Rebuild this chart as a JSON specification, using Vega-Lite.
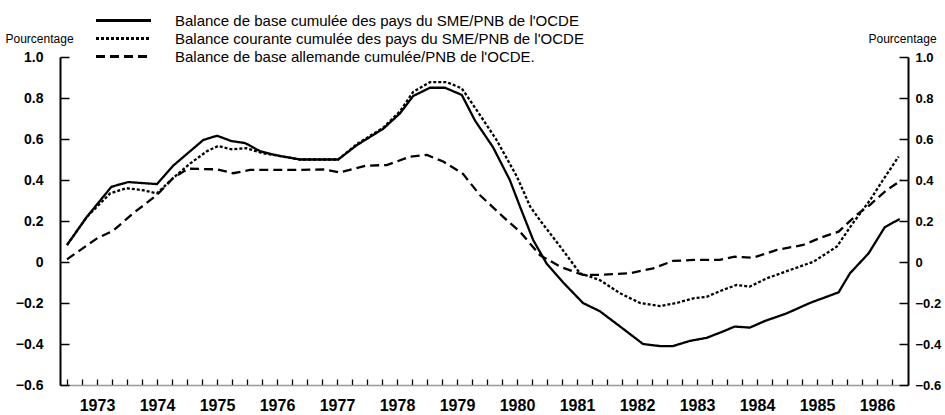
{
  "$schema": "https://vega.github.io/schema/vega-lite/v6.json",
  "autosize": {"type": "none"},
  "width": 848,
  "height": 328,
  "padding": {"left": 60, "top": 57, "right": 37, "bottom": 30},
  "background": "white",
  "config": {"view": {"stroke": null}, "font": "Liberation Sans"},
  "data": {"values": [
    {"t":1973.0,"v":0.083,"s":"a"},{"t":1973.33,"v":0.22,"s":"a"},{"t":1973.74,"v":0.367,"s":"a"},{"t":1974.02,"v":0.39,"s":"a"},{"t":1974.5,"v":0.38,"s":"a"},{"t":1974.77,"v":0.47,"s":"a"},{"t":1975.27,"v":0.595,"s":"a"},{"t":1975.5,"v":0.616,"s":"a"},{"t":1975.74,"v":0.59,"s":"a"},{"t":1975.97,"v":0.58,"s":"a"},{"t":1976.22,"v":0.54,"s":"a"},{"t":1976.5,"v":0.52,"s":"a"},{"t":1976.88,"v":0.5,"s":"a"},{"t":1977.05,"v":0.5,"s":"a"},{"t":1977.52,"v":0.5,"s":"a"},{"t":1977.83,"v":0.57,"s":"a"},{"t":1978.27,"v":0.65,"s":"a"},{"t":1978.55,"v":0.725,"s":"a"},{"t":1978.77,"v":0.81,"s":"a"},{"t":1979.05,"v":0.85,"s":"a"},{"t":1979.3,"v":0.85,"s":"a"},{"t":1979.58,"v":0.815,"s":"a"},{"t":1979.8,"v":0.69,"s":"a"},{"t":1980.1,"v":0.56,"s":"a"},{"t":1980.38,"v":0.4,"s":"a"},{"t":1980.55,"v":0.27,"s":"a"},{"t":1980.77,"v":0.107,"s":"a"},{"t":1980.99,"v":-0.006,"s":"a"},{"t":1981.27,"v":-0.1,"s":"a"},{"t":1981.6,"v":-0.2,"s":"a"},{"t":1981.88,"v":-0.24,"s":"a"},{"t":1982.22,"v":-0.315,"s":"a"},{"t":1982.6,"v":-0.4,"s":"a"},{"t":1982.88,"v":-0.41,"s":"a"},{"t":1983.1,"v":-0.41,"s":"a"},{"t":1983.38,"v":-0.385,"s":"a"},{"t":1983.66,"v":-0.37,"s":"a"},{"t":1983.88,"v":-0.345,"s":"a"},{"t":1984.13,"v":-0.315,"s":"a"},{"t":1984.38,"v":-0.32,"s":"a"},{"t":1984.63,"v":-0.288,"s":"a"},{"t":1985.0,"v":-0.25,"s":"a"},{"t":1985.38,"v":-0.2,"s":"a"},{"t":1985.86,"v":-0.148,"s":"a"},{"t":1986.05,"v":-0.055,"s":"a"},{"t":1986.36,"v":0.042,"s":"a"},{"t":1986.63,"v":0.17,"s":"a"},{"t":1986.88,"v":0.21,"s":"a"},
    {"t":1973.0,"v":0.083,"s":"b"},{"t":1973.33,"v":0.22,"s":"b"},{"t":1973.72,"v":0.335,"s":"b"},{"t":1973.99,"v":0.36,"s":"b"},{"t":1974.27,"v":0.35,"s":"b"},{"t":1974.5,"v":0.335,"s":"b"},{"t":1974.77,"v":0.41,"s":"b"},{"t":1975.05,"v":0.48,"s":"b"},{"t":1975.33,"v":0.54,"s":"b"},{"t":1975.52,"v":0.566,"s":"b"},{"t":1975.74,"v":0.55,"s":"b"},{"t":1975.99,"v":0.555,"s":"b"},{"t":1976.27,"v":0.53,"s":"b"},{"t":1976.55,"v":0.517,"s":"b"},{"t":1976.88,"v":0.5,"s":"b"},{"t":1977.05,"v":0.5,"s":"b"},{"t":1977.52,"v":0.5,"s":"b"},{"t":1977.83,"v":0.575,"s":"b"},{"t":1978.27,"v":0.655,"s":"b"},{"t":1978.55,"v":0.735,"s":"b"},{"t":1978.77,"v":0.83,"s":"b"},{"t":1979.05,"v":0.877,"s":"b"},{"t":1979.33,"v":0.877,"s":"b"},{"t":1979.58,"v":0.847,"s":"b"},{"t":1979.83,"v":0.74,"s":"b"},{"t":1980.16,"v":0.595,"s":"b"},{"t":1980.5,"v":0.416,"s":"b"},{"t":1980.72,"v":0.27,"s":"b"},{"t":1980.88,"v":0.205,"s":"b"},{"t":1981.22,"v":0.075,"s":"b"},{"t":1981.55,"v":-0.055,"s":"b"},{"t":1981.88,"v":-0.088,"s":"b"},{"t":1982.22,"v":-0.153,"s":"b"},{"t":1982.55,"v":-0.2,"s":"b"},{"t":1982.88,"v":-0.215,"s":"b"},{"t":1983.16,"v":-0.2,"s":"b"},{"t":1983.44,"v":-0.177,"s":"b"},{"t":1983.66,"v":-0.17,"s":"b"},{"t":1983.9,"v":-0.14,"s":"b"},{"t":1984.16,"v":-0.112,"s":"b"},{"t":1984.38,"v":-0.12,"s":"b"},{"t":1984.66,"v":-0.08,"s":"b"},{"t":1985.05,"v":-0.039,"s":"b"},{"t":1985.44,"v":0.001,"s":"b"},{"t":1985.83,"v":0.075,"s":"b"},{"t":1986.1,"v":0.19,"s":"b"},{"t":1986.38,"v":0.3,"s":"b"},{"t":1986.6,"v":0.4,"s":"b"},{"t":1986.86,"v":0.514,"s":"b"},
    {"t":1973.0,"v":0.013,"s":"c"},{"t":1973.22,"v":0.058,"s":"c"},{"t":1973.5,"v":0.115,"s":"c"},{"t":1973.77,"v":0.153,"s":"c"},{"t":1974.1,"v":0.237,"s":"c"},{"t":1974.5,"v":0.327,"s":"c"},{"t":1974.77,"v":0.41,"s":"c"},{"t":1975.02,"v":0.455,"s":"c"},{"t":1975.5,"v":0.452,"s":"c"},{"t":1975.77,"v":0.433,"s":"c"},{"t":1976.05,"v":0.449,"s":"c"},{"t":1976.88,"v":0.449,"s":"c"},{"t":1977.27,"v":0.452,"s":"c"},{"t":1977.55,"v":0.437,"s":"c"},{"t":1977.99,"v":0.47,"s":"c"},{"t":1978.33,"v":0.473,"s":"c"},{"t":1978.72,"v":0.514,"s":"c"},{"t":1979.0,"v":0.522,"s":"c"},{"t":1979.27,"v":0.49,"s":"c"},{"t":1979.6,"v":0.43,"s":"c"},{"t":1979.88,"v":0.327,"s":"c"},{"t":1980.27,"v":0.22,"s":"c"},{"t":1980.55,"v":0.148,"s":"c"},{"t":1980.88,"v":0.034,"s":"c"},{"t":1981.22,"v":-0.023,"s":"c"},{"t":1981.6,"v":-0.063,"s":"c"},{"t":1981.88,"v":-0.063,"s":"c"},{"t":1982.38,"v":-0.055,"s":"c"},{"t":1982.77,"v":-0.031,"s":"c"},{"t":1983.1,"v":0.005,"s":"c"},{"t":1983.44,"v":0.01,"s":"c"},{"t":1983.88,"v":0.01,"s":"c"},{"t":1984.13,"v":0.026,"s":"c"},{"t":1984.44,"v":0.021,"s":"c"},{"t":1984.83,"v":0.059,"s":"c"},{"t":1985.27,"v":0.083,"s":"c"},{"t":1985.6,"v":0.123,"s":"c"},{"t":1985.86,"v":0.148,"s":"c"},{"t":1986.16,"v":0.23,"s":"c"},{"t":1986.38,"v":0.278,"s":"c"},{"t":1986.66,"v":0.35,"s":"c"},{"t":1986.91,"v":0.4,"s":"c"}
  ]},
  "encoding": {
    "x": {"field": "t", "type": "quantitative",
      "scale": {"domain": [1972.883, 1987.017], "nice": false, "zero": false},
      "axis": {
        "title": null, "grid": false,
        "values": [1973,1973.25,1973.5,1973.75,1974,1974.25,1974.5,1974.75,1975,1975.25,1975.5,1975.75,1976,1976.25,1976.5,1976.75,1977,1977.25,1977.5,1977.75,1978,1978.25,1978.5,1978.75,1979,1979.25,1979.5,1979.75,1980,1980.25,1980.5,1980.75,1981,1981.25,1981.5,1981.75,1982,1982.25,1982.5,1982.75,1983,1983.25,1983.5,1983.75,1984,1984.25,1984.5,1984.75,1985,1985.25,1985.5,1985.75,1986,1986.25,1986.5,1986.75],
        "labelExpr": "(datum.value * 4) % 4 == 2 ? toString(floor(datum.value)) : ''",
        "labelOverlap": false, "labelFlush": false,
        "labelFont": "Liberation Sans", "labelFontWeight": "bold", "labelFontSize": 16, "labelColor": "black",
        "labelPadding": 18,
        "tickSize": -6, "tickColor": "black", "tickWidth": 1.3,
        "domainColor": "#999999", "domainWidth": 1.5
      }
    }
  },
  "layer": [
    {
      "mark": {"type": "line", "color": "black", "strokeWidth": 2.3},
      "encoding": {
        "y": {"field": "v", "type": "quantitative",
          "scale": {"domain": [-0.6, 1.0], "nice": false, "zero": false},
          "axis": {
            "orient": "left", "grid": false,
            "values": [-0.6,-0.4,-0.2,0,0.2,0.4,0.6,0.8,1.0],
            "labelExpr": "datum.value == 0 ? '0' : format(datum.value, '.1f')",
            "labelFont": "Liberation Sans", "labelFontWeight": "bold", "labelFontSize": 14, "labelColor": "black",
            "labelPadding": 26,
            "tickSize": -9, "tickColor": "black", "tickWidth": 1.5,
            "domainColor": "black", "domainWidth": 2,
            "title": "Pourcentage", "titleAngle": 0, "titleX": -55, "titleY": -15,
            "titleAlign": "left", "titleBaseline": "alphabetic",
            "titleFont": "Liberation Sans", "titleFontWeight": "normal", "titleFontSize": 12, "titleColor": "black"
          }
        },
        "strokeDash": {"field": "s", "type": "nominal",
          "scale": {"domain": ["a", "b", "c"], "range": [[1, 0], [3, 2], [9, 5]]},
          "legend": {
            "orient": "none", "legendX": 55, "legendY": -45, "direction": "vertical",
            "title": null, "symbolType": "M-4,0L4,0", "symbolSize": 189, "symbolStrokeWidth": 3,
            "symbolStrokeColor": "black",
            "labelExpr": "datum.label == 'a' ? \"Balance de base cumulée des pays du SME/PNB de l'OCDE\" : datum.label == 'b' ? \"Balance courante cumulée des pays du SME/PNB de l'OCDE\" : \"Balance de base allemande cumulée/PNB de l'OCDE.\"",
            "labelFont": "Liberation Sans", "labelFontSize": 15, "labelColor": "black",
            "labelOffset": 43, "labelLimit": 0, "rowPadding": 1
          }
        }
      }
    },
    {
      "mark": {"type": "line", "opacity": 0},
      "encoding": {
        "y": {"field": "v", "type": "quantitative",
          "axis": {
            "orient": "right", "grid": false,
            "values": [-0.6,-0.4,-0.2,0,0.2,0.4,0.6,0.8,1.0],
            "labelExpr": "datum.value == 0 ? '0' : format(datum.value, '.1f')",
            "labelFont": "Liberation Sans", "labelFontWeight": "bold", "labelFontSize": 13, "labelColor": "black",
            "labelPadding": 16,
            "tickSize": -9, "tickColor": "black", "tickWidth": 1.5,
            "domainColor": "black", "domainWidth": 2,
            "title": "Pourcentage", "titleAngle": 0, "titleX": -40, "titleY": -15,
            "titleAlign": "left", "titleBaseline": "alphabetic",
            "titleFont": "Liberation Sans", "titleFontWeight": "normal", "titleFontSize": 12, "titleColor": "black"
          }
        },
        "detail": {"field": "s", "type": "nominal"}
      }
    }
  ],
  "resolve": {"axis": {"y": "independent"}}
}
